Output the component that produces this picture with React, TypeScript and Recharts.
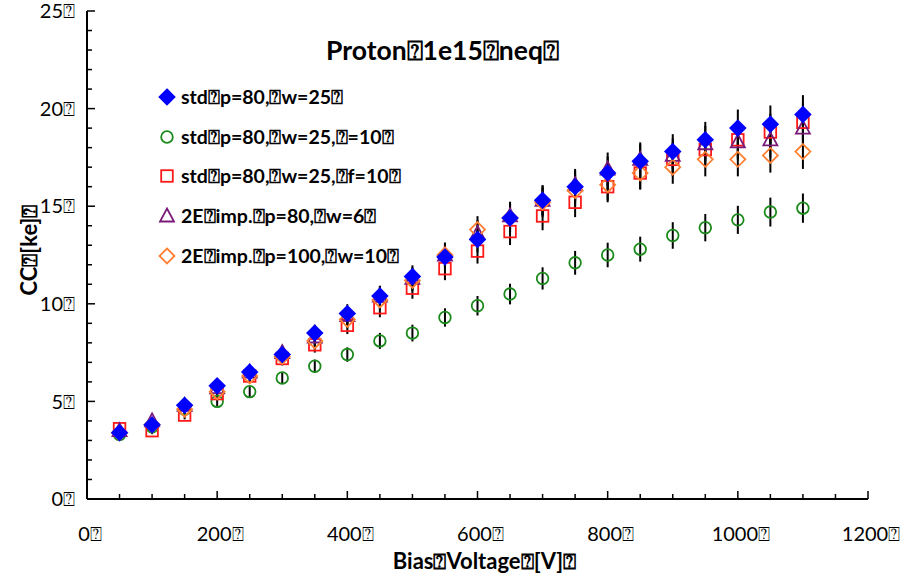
import React from "react";
import { ScatterChart, Scatter, XAxis, YAxis, ErrorBar } from "recharts";

// bias voltage points [V]
const voltages = [50, 100, 150, 200, 250, 300, 350, 400, 450, 500, 550, 600, 650, 700, 750, 800, 850, 900, 950, 1000, 1050, 1100];

// CC [ke] per sample
const stdP80W25 = [3.4, 3.8, 4.8, 5.8, 6.5, 7.4, 8.5, 9.5, 10.4, 11.4, 12.4, 13.3, 14.4, 15.3, 16.0, 16.7, 17.3, 17.8, 18.4, 19.0, 19.2, 19.7];
const stdP80W25Err = [0.17, 0.19, 0.24, 0.29, 0.33, 0.37, 0.43, 0.48, 0.52, 0.57, 0.62, 0.67, 0.72, 0.77, 0.8, 0.84, 0.87, 0.89, 0.92, 0.95, 0.96, 0.99];

const stdF10 = [3.3, 3.7, 4.6, 5.0, 5.5, 6.2, 6.8, 7.4, 8.1, 8.5, 9.3, 9.9, 10.5, 11.3, 12.1, 12.5, 12.8, 13.5, 13.9, 14.3, 14.7, 14.9];
const stdF10Err = [0.17, 0.19, 0.23, 0.25, 0.28, 0.31, 0.34, 0.37, 0.41, 0.43, 0.47, 0.5, 0.53, 0.57, 0.61, 0.63, 0.64, 0.68, 0.7, 0.72, 0.74, 0.75];

const stdFf10 = [3.6, 3.5, 4.3, 5.4, 6.3, 7.2, 7.9, 8.9, 9.8, 10.8, 11.8, 12.7, 13.7, 14.5, 15.2, 16.0, 16.7, 17.4, 17.9, 18.4, 18.8, 19.3];
const stdFf10Err = [0.18, 0.18, 0.22, 0.27, 0.32, 0.36, 0.4, 0.45, 0.49, 0.54, 0.59, 0.64, 0.69, 0.73, 0.76, 0.8, 0.84, 0.87, 0.9, 0.92, 0.94, 0.97];

const impP80W6 = [3.5, 4.0, 4.8, 5.7, 6.5, 7.5, 8.3, 9.4, 10.4, 11.3, 12.5, 13.6, 14.5, 15.3, 16.1, 16.9, 17.4, 17.6, 18.2, 18.3, 18.4, 19.0];
const impP80W6Err = [0.18, 0.2, 0.24, 0.29, 0.33, 0.38, 0.42, 0.47, 0.52, 0.57, 0.63, 0.68, 0.73, 0.77, 0.81, 0.85, 0.87, 0.88, 0.91, 0.92, 0.92, 0.95];

const impP100W10 = [3.4, 3.8, 4.6, 5.5, 6.3, 7.3, 8.1, 9.2, 10.2, 11.2, 12.5, 13.8, 14.4, 15.2, 15.8, 16.1, 16.7, 17.0, 17.4, 17.4, 17.6, 17.8];
const impP100W10Err = [0.17, 0.19, 0.23, 0.28, 0.32, 0.37, 0.41, 0.46, 0.51, 0.56, 0.63, 0.69, 0.72, 0.76, 0.79, 0.81, 0.84, 0.85, 0.87, 0.87, 0.88, 0.89];

const xTicks = [0, 50, 100, 150, 200, 250, 300, 350, 400, 450, 500, 550, 600, 650, 700, 750, 800, 850, 900, 950, 1000, 1050, 1100, 1150, 1200];
const yTicks = [0, 1, 2, 3, 4, 5, 6, 7, 8, 9, 10, 11, 12, 13, 14, 15, 16, 17, 18, 19, 20, 21, 22, 23, 24, 25];

const Q = "\u2370";
const FONT = "Lato, 'Open Sans', sans-serif";

const toRows = (vals: number[], errs: number[]) =>
  voltages.map((v, i) => ({ x: v, y: vals[i], err: errs[i] }));

const Diamond = ({ cx, cy, fill, stroke }: any) => (
  <path d={`M${cx},${cy - 7.5}L${cx + 7.5},${cy}L${cx},${cy + 7.5}L${cx - 7.5},${cy}Z`} fill={fill} stroke={stroke} strokeWidth={1.8} />
);
const Circle = ({ cx, cy, stroke }: any) => <circle cx={cx} cy={cy} r={5.8} fill="none" stroke={stroke} strokeWidth={1.8} />;
const Square = ({ cx, cy, stroke }: any) => <rect x={cx - 5.8} y={cy - 5.8} width={11.6} height={11.6} fill="none" stroke={stroke} strokeWidth={1.8} />;
const Triangle = ({ cx, cy, stroke }: any) => (
  <path d={`M${cx},${cy - 7.5}L${cx + 7},${cy + 5.5}L${cx - 7},${cy + 5.5}Z`} fill="none" stroke={stroke} strokeWidth={1.8} />
);

const series = [
  { name: `std${Q}p=80,${Q}w=25${Q}`, data: toRows(stdP80W25, stdP80W25Err), color: "#0000ff", fill: "#0000ff", Shape: Diamond },
  { name: `std${Q}p=80,${Q}w=25,${Q}=10${Q}`, data: toRows(stdF10, stdF10Err), color: "#1a8a1a", fill: "none", Shape: Circle },
  { name: `std${Q}p=80,${Q}w=25,${Q}f=10${Q}`, data: toRows(stdFf10, stdFf10Err), color: "#ff1a1a", fill: "none", Shape: Square },
  { name: `2E${Q}imp.${Q}p=80,${Q}w=6${Q}`, data: toRows(impP80W6, impP80W6Err), color: "#7a1a7a", fill: "none", Shape: Triangle },
  { name: `2E${Q}imp.${Q}p=100,${Q}w=10${Q}`, data: toRows(impP100W10, impP100W10Err), color: "#ff8033", fill: "none", Shape: Diamond },
];

const drawOrder = [1, 2, 3, 4, 0];

const YTick = ({ x, y, payload }: any) => {
  const major = payload.value % 5 === 0;
  const ax = x + 12;
  return (
    <g>
      <line x1={ax} x2={ax + (major ? 8 : 5)} y1={y} y2={y} stroke="#000" strokeWidth={1.5} />
      {major && (
        <text x={x} y={y} dy="0.36em" textAnchor="end" fontFamily={FONT} fontSize={20} fill="#000">
          {payload.value}
          {Q}
        </text>
      )}
    </g>
  );
};

const XTick = ({ x, y, payload }: any) => {
  const major = payload.value % 200 === 0;
  const ay = y - 12;
  return (
    <g>
      <line x1={x} x2={x} y1={ay} y2={ay - (major ? 8 : 5)} stroke="#000" strokeWidth={1.5} />
      {major && (
        <text x={x + 3} y={ay + 35} dy="0.36em" textAnchor="middle" fontFamily={FONT} fontSize={20} fill="#000">
          {payload.value}
          {Q}
        </text>
      )}
    </g>
  );
};

const LegendBox = () => (
  <div style={{ position: "absolute", left: 158, top: 77, fontFamily: FONT, fontWeight: 700, fontSize: 19.5, color: "#000" }}>
    {series.map((s) => (
      <div key={s.name} style={{ display: "flex", alignItems: "center", height: 39.7, whiteSpace: "nowrap" }}>
        <svg width={18} height={18} style={{ marginRight: 5 }}>
          <s.Shape cx={9} cy={9} fill={s.fill} stroke={s.color} />
        </svg>
        <span>{s.name}</span>
      </div>
    ))}
  </div>
);

export default function App() {
  return (
    <div style={{ position: "absolute", left: 0, top: 0, width: 920, height: 580, background: "#fff" }}>
      <ScatterChart width={920} height={580} margin={{ top: 11, right: 52, bottom: 51, left: 27 }}>
        <XAxis
          type="number"
          dataKey="x"
          domain={[0, 1200]}
          ticks={xTicks}
          interval={0}
          tickSize={0}
          tickMargin={12}
          tick={<XTick />}
          height={30}
          axisLine={{ stroke: "#000", strokeWidth: 2 }}
        />
        <YAxis
          type="number"
          dataKey="y"
          domain={[0, 25]}
          ticks={yTicks}
          interval={0}
          tickSize={0}
          tickMargin={12}
          tick={<YTick />}
          width={60}
          axisLine={{ stroke: "#000", strokeWidth: 2 }}
        />
        {drawOrder.map((i) => {
          const s = series[i];
          return (
            <Scatter
              key={s.name}
              name={s.name}
              data={s.data}
              isAnimationActive={false}
              shape={(p: any) => <s.Shape cx={p.cx} cy={p.cy} fill={s.fill} stroke={s.color} />}
            >
              <ErrorBar dataKey="err" direction="y" width={0} stroke="#000" strokeWidth={2} />
            </Scatter>
          );
        })}
      </ScatterChart>
      <LegendBox />
      <div
        style={{ position: "absolute", left: 0, width: 885, top: 34, textAlign: "center", fontFamily: FONT, fontWeight: 700, fontSize: 26.5 }}
      >
        Proton{Q}1e15{Q}neq{Q}
      </div>
      <div
        style={{ position: "absolute", left: 87, width: 795, top: 547, textAlign: "center", fontFamily: FONT, fontWeight: 700, fontSize: 22 }}
      >
        Bias{Q}Voltage{Q}[V]{Q}
      </div>
      <div
        style={{
          position: "absolute",
          left: 28,
          top: 250,
          transform: "translate(-50%, -50%) rotate(-90deg)",
          whiteSpace: "nowrap",
          fontFamily: FONT,
          fontWeight: 700,
          fontSize: 22,
        }}
      >
        CC{Q}[ke]{Q}
      </div>
    </div>
  );
}
